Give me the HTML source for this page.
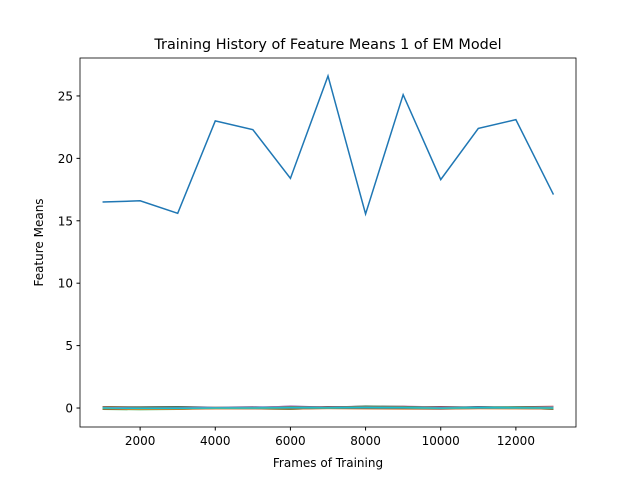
<!DOCTYPE html>
<html><head><meta charset="utf-8"><style>
body{margin:0;background:#fff;font-family:"Liberation Sans","DejaVu Sans",sans-serif}
svg text{font-family:"DejaVu Sans","Liberation Sans",sans-serif}
</style></head><body>
<svg id="chart" width="640" height="480" xmlns="http://www.w3.org/2000/svg">
<rect width="640" height="480" fill="#fff"/>
<g id="plot"></g>
<rect x="80" y="58" width="496" height="369" fill="none" stroke="#000" stroke-width="0.8"/>
<text x="328" y="49" font-size="14.4" text-anchor="middle">Training History of Feature Means 1 of EM Model</text>
<text x="328" y="467" font-size="12" text-anchor="middle">Frames of Training</text>
<text x="0" y="0" font-size="12" text-anchor="middle" transform="translate(43,242.5) rotate(-90)">Feature Means</text>
<g id="axes"></g>
</svg>
<script>
const frames=[1000,2000,3000,4000,5000,6000,7000,8000,9000,10000,11000,12000,13000];
const mainSeries=[16.5,16.6,15.6,23.0,22.3,18.4,26.6,15.55,25.1,18.3,22.4,23.1,17.1];
const s2=[0.05,0.02,0.03,-0.02,0.04,0.1,0.06,0.12,0.1,0.0,0.05,0.03,0.08];
const s3=[-0.1,-0.12,-0.1,0.0,-0.05,-0.1,0.02,0.0,-0.02,-0.05,0.0,0.02,-0.1];
const s4=[0.1,0.08,0.1,0.05,0.08,0.0,0.1,0.05,0.08,0.1,0.05,0.08,0.12];
const s5=[-0.05,-0.1,-0.08,-0.03,0.0,0.15,0.05,0.15,0.12,-0.02,0.1,0.0,0.0];
const s6=[0.0,0.05,0.06,0.02,-0.02,-0.05,0.08,0.1,0.05,0.03,0.08,0.06,-0.05];
const s7=[0.08,0.0,0.02,0.06,0.05,0.12,0.0,0.08,0.14,0.06,0.02,0.05,0.1];
const s8=[-0.08,-0.05,-0.06,-0.04,-0.06,-0.08,-0.02,-0.04,-0.06,-0.08,-0.03,-0.02,-0.08];
const s9=[0.02,-0.02,0.0,0.04,0.02,0.05,0.04,0.02,0.0,0.04,0.06,0.04,0.02];
const s10=[-0.02,-0.08,-0.04,0.0,0.03,-0.02,0.03,0.06,0.04,-0.04,0.02,-0.02,-0.04];
const s11=[0.04,0.06,0.08,0.03,0.06,0.08,0.07,0.1,0.09,0.05,0.07,0.07,0.06];
const s12=[-0.06,-0.1,-0.09,-0.05,-0.04,-0.06,-0.03,-0.05,-0.07,-0.06,-0.04,-0.05,-0.06];
const s13=[0.06,0.04,0.05,0.01,0.0,0.1,0.05,0.13,0.11,0.02,0.04,0.05,0.05];
const s14=[-0.03,-0.06,-0.05,-0.02,-0.01,0.0,-0.01,0.02,0.0,-0.03,0.0,-0.01,-0.02];
const s15=[0.03,0.0,0.01,0.02,0.03,0.06,0.04,0.07,0.06,0.01,0.03,0.02,0.03];
const s16=[-0.04,-0.07,-0.07,-0.03,-0.03,-0.04,-0.02,-0.03,-0.04,-0.05,-0.02,-0.03,-0.05];
const s17=[0.01,-0.03,-0.02,0.0,0.01,0.03,0.02,0.04,0.03,-0.01,0.01,0.0,0.01];
const s18=[0.0,-0.04,-0.03,-0.01,0.0,0.02,0.01,0.03,0.02,-0.02,0.02,0.01,0.0];
const s19=[-0.01,-0.05,-0.04,-0.02,-0.01,0.01,0.0,0.02,0.01,-0.02,0.01,0.0,-0.01];
const s20=[0.0,-0.03,-0.02,0.0,0.0,0.02,0.01,0.03,0.02,-0.01,0.02,0.01,0.0];
const xTicks=[2000,4000,6000,8000,10000,12000];
const yTicks=[0,5,10,15,20,25];
const colors=['#1f77b4','#ff7f0e','#2ca02c','#d62728','#9467bd','#8c564b','#e377c2','#7f7f7f','#bcbd22','#17becf'];
const X=v=>80+(v-400)/13200*496;
const Y=v=>427-(v+1.52)/(28.04+1.52)*369;
const NS='http://www.w3.org/2000/svg';
const plot=document.getElementById('plot'),axes=document.getElementById('axes');
const all=[mainSeries,s2,s3,s4,s5,s6,s7,s8,s9,s10,s11,s12,s13,s14,s15,s16,s17,s18,s19,s20];
for(let k=0;k<all.length;k++){
 const p=document.createElementNS(NS,'polyline');
 p.setAttribute('points',frames.map((f,i)=>X(f)+','+Y(all[k][i])).join(' '));
 p.setAttribute('fill','none');p.setAttribute('stroke',colors[k%10]);p.setAttribute('stroke-width','1.5');
 
 
 plot.appendChild(p);
}
xTicks.forEach(t=>{
 const l=document.createElementNS(NS,'line');
 l.setAttribute('x1',X(t));l.setAttribute('x2',X(t));l.setAttribute('y1',427);l.setAttribute('y2',430.5);l.setAttribute('stroke','#000');
 
 
 axes.appendChild(l);
 const tx=document.createElementNS(NS,'text');
 tx.setAttribute('x',X(t));tx.setAttribute('y',445);tx.setAttribute('font-size','12');tx.setAttribute('text-anchor','middle');
 tx.textContent=t;
 
 
 axes.appendChild(tx);
});
yTicks.forEach(t=>{
 const l=document.createElementNS(NS,'line');
 l.setAttribute('x1',76.5);l.setAttribute('x2',80);l.setAttribute('y1',Y(t));l.setAttribute('y2',Y(t));l.setAttribute('stroke','#000');
 
 
 axes.appendChild(l);
 const tx=document.createElementNS(NS,'text');
 tx.setAttribute('x',73);tx.setAttribute('y',Y(t)+4.5);tx.setAttribute('font-size','12');tx.setAttribute('text-anchor','end');
 tx.textContent=t;
 
 
 axes.appendChild(tx);
});
</script>
</body></html>
